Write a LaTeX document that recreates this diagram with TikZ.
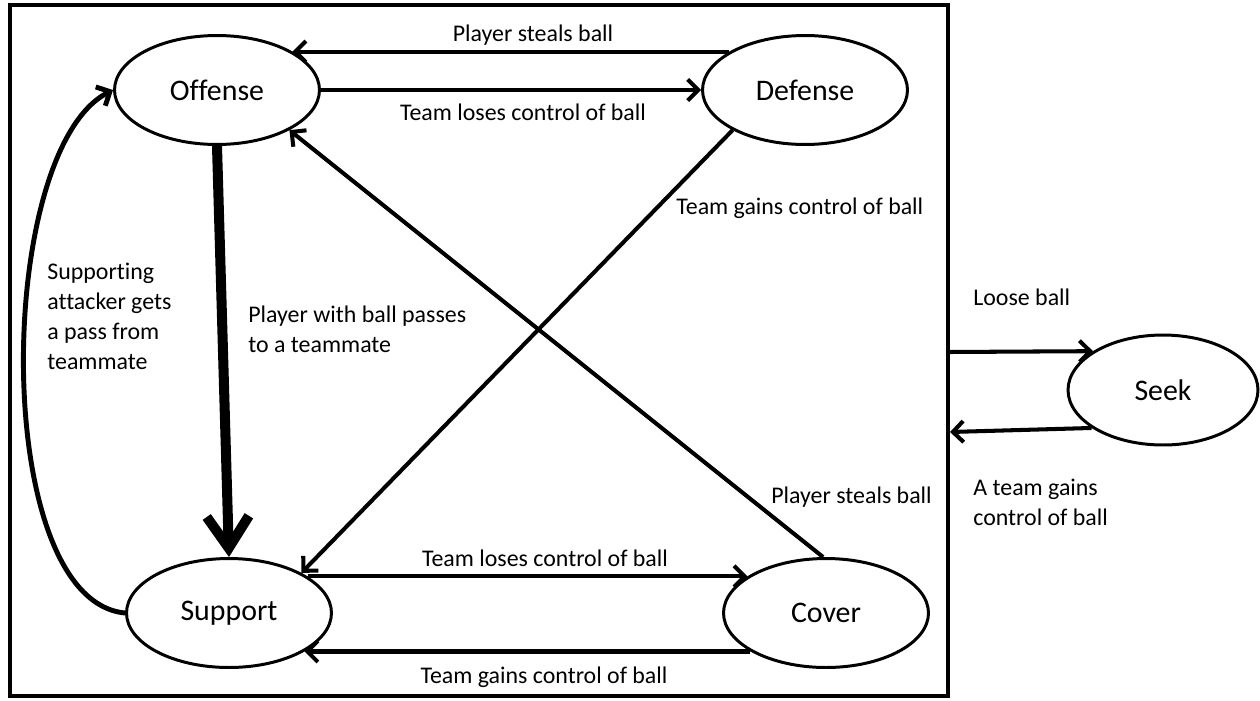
\documentclass[tikz,border=0pt]{standalone}
\usepackage{fontspec}
\setmainfont{Carlito}[Ligatures=NoCommon]
\usepackage{tikz}
\usetikzlibrary{shapes.geometric, positioning, arrows.meta}

\begin{document}
\begin{tikzpicture}[x=0.02cm, y=-0.02cm,
    state/.style={draw, ellipse, line width=1.7pt, minimum width=4.1cm, minimum height=2.18cm, inner sep=0pt, font=\fontsize{17}{20}\selectfont},
    trans/.style={line width=2.3pt, -{Straight Barb[length=6pt, width=12pt]}},
    bigtrans/.style={line width=5.7pt, -{Straight Barb[length=18pt, width=24pt]}},
    lbl/.style={inner sep=0pt, font=\fontsize{13.6}{17}\selectfont}]
    \useasboundingbox (0,0) rectangle (1260,700);

    % Field
    \draw[line width=2pt] (10,5) rectangle (948,696);
    \coordinate (loose) at (948,352);
    \coordinate (regain) at (950,432);

    % States
    \node[state] (offense) at (217,90) {Offense};
    \node[state] (defense) at (805,90) {Defense};
    \node[state] (support) at (229,613) {Support};
    \node[state] (cover) at (826,613) {Cover};
    \node[state, minimum width=3.8cm, minimum height=2.2cm] (seek) at (1163,390) {Seek};

    % Top pair
    \draw[trans] (defense.153) -- (offense.27);
    \draw[trans] (offense.east) -- (defense.west);
    \node[lbl] (stealtop) at (533,35) {Player steals ball};
    \node[lbl] (losetop) at (523,112) {Team loses control of ball};

    % Bottom pair
    \draw[trans] (support.25) -- (cover.155);
    \draw[trans] (cover.207) -- (support.333);
    \node[lbl] (losebot) at (545,558) {Team loses control of ball};
    \node[lbl] (gainbot) at (544,677) {Team gains control of ball};

    % Diagonals
    \draw[trans] (defense.209) -- (support.29);
    \draw[trans] (cover.93) -- (offense.331);
    \node[lbl, anchor=west] (gaintop) at (676,208) {Team gains control of ball};
    \node[lbl, anchor=west] (stealbot) at (771,497) {Player steals ball};

    % Pass
    \draw[bigtrans] (offense.south) -- (support.north);
    \node[lbl, anchor=north west, align=left] (passlbl) at (248,306) {Player with ball passes\\to a teammate};

    % Back to offense
    \draw[trans, line width=2.8pt] (support.west) .. controls (-10,600) and (-5,150) .. (offense.west);
    \node[lbl, anchor=north west, align=left] (backlbl) at (47,263) {Supporting\\attacker gets\\a pass from\\teammate};

    % Seek
    \draw[trans] (loose) -- (seek.151);
    \draw[trans] (seek.208) -- (regain);
    \node[lbl, anchor=west] (looselbl) at (973,297) {Loose ball};
    \node[lbl, anchor=north west, align=left] (regainlbl) at (973,479) {A team gains\\control of ball};
\end{tikzpicture}
\end{document}
